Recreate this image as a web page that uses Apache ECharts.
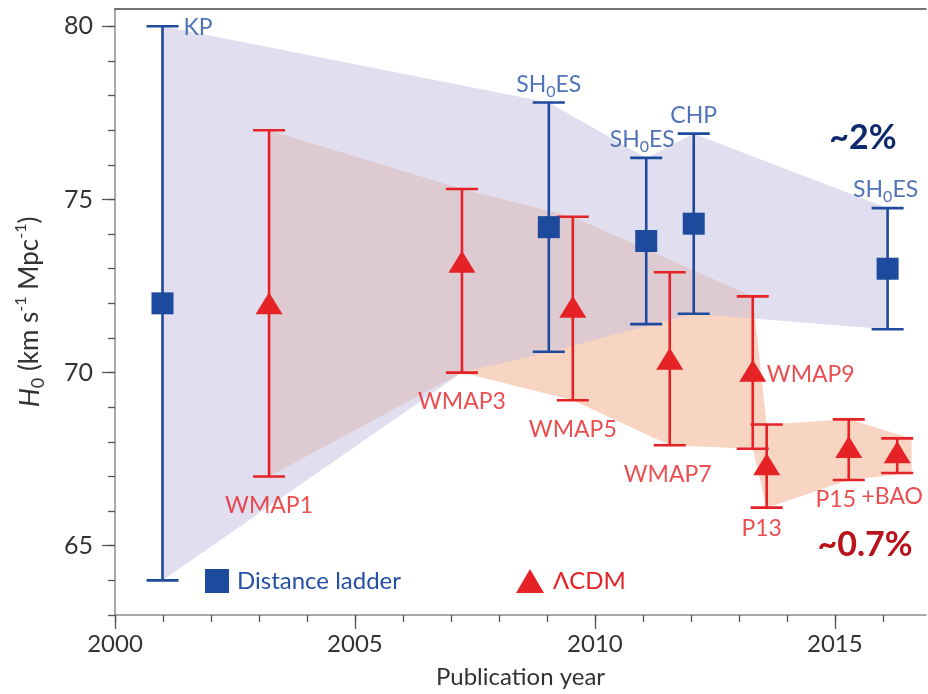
<!DOCTYPE html>
<html>
<head>
<meta charset="utf-8">
<script src="https://cdn.jsdelivr.net/npm/echarts@6/dist/echarts.min.js"></script>
<style>
  html, body { margin: 0; padding: 0; background: #ffffff; }
  #chart { width: 928px; height: 694px; }
</style>
</head>
<body>
<div id="chart"></div>
<script>
// ---- Distance-ladder measurements of H0 (km s^-1 Mpc^-1) ----
const ladderNames = ['KP', 'SH0ES', 'SH0ES', 'CHP', 'SH0ES'];
const ladderYears = [2000.99, 2009.04, 2011.07, 2012.06, 2016.1];
const ladderH0    = [72.0, 74.2, 73.8, 74.3, 73.0];
const ladderLow   = [64.0, 70.6, 71.4, 71.7, 71.25];
const ladderHigh  = [80.0, 77.8, 76.2, 76.9, 74.75];

// ---- CMB inferences assuming LambdaCDM ----
const cmbNames = ['WMAP1', 'WMAP3', 'WMAP5', 'WMAP7', 'WMAP9', 'P13', 'P15', '+BAO'];
const cmbYears = [2003.21, 2007.23, 2009.54, 2011.56, 2013.29, 2013.58, 2015.29, 2016.3];
const cmbH0    = [72.0, 73.2, 71.9, 70.4, 70.05, 67.35, 67.85, 67.7];
const cmbLow   = [67.0, 70.0, 69.2, 67.9, 67.8, 66.1, 66.9, 67.1];
const cmbHigh  = [77.0, 75.3, 74.5, 72.9, 72.2, 68.5, 68.65, 68.1];

// ---- Shaded envelopes, as [year, H0] vertices ----
const ladderBand = [
  [2000.99, 80.0], [2009.04, 77.8], [2011.07, 76.2], [2012.06, 76.9], [2016.1, 74.75],
  [2016.1, 71.25], [2012.06, 71.7], [2009.04, 70.6], [2007.23, 70.0], [2000.99, 64.0]
];
const cmbBand = [
  [2003.21, 77.0], [2007.23, 75.3], [2009.54, 74.5], [2013.29, 72.2], [2013.58, 68.5],
  [2015.29, 68.65], [2016.6, 68.1], [2016.6, 67.1], [2015.29, 66.9], [2013.58, 66.1],
  [2013.29, 67.8], [2011.56, 67.9], [2009.54, 69.2], [2007.23, 70.0], [2003.21, 67.0]
];

// ---- Axis ticks ----
const xMajorTicks = [2000, 2005, 2010, 2015];
const xMinorTicks = [2000, 2001, 2002, 2003, 2004, 2005, 2006, 2007, 2008, 2009, 2010, 2011, 2012, 2013, 2014, 2015, 2016];
const yMajorTicks = [65, 70, 75, 80];
const yMinorTicks = [63, 64, 65, 66, 67, 68, 69, 70, 71, 72, 73, 74, 75, 76, 77, 78, 79, 80];

const legendNames = ['Distance ladder', '\u039BCDM'];

// ---- Styling ----
const FONT = 'Lato';
const BLUE = '#1D4A9D';
const BLUE_TEXT = '#2650A5';
const RED = '#E52226';
const AXIS_COLOR = '#8C8C8C';
const TICK_COLOR = '#555555';
const TEXT_COLOR = '#333333';

const X_MIN = 2000, X_MAX = 2016.9;
const Y_MIN = 63, Y_MAX = 80.5;

// label placement, one entry per point
const ladderLabelLayout = [
  { position: 'right', distance: 21, offset: [0, 1] },
  { position: 'top', distance: 3, offset: [0, 0] },
  { position: 'top', distance: 3, offset: [-4, 0] },
  { position: 'top', distance: 3, offset: [0, 0] },
  { position: 'top', distance: 3, offset: [-2, 0] }
];
const cmbLabelLayout = [
  { anchor: 'low', position: 'bottom', distance: 14, offset: [0, 0] },
  { anchor: 'low', position: 'bottom', distance: 14, offset: [0, 0] },
  { anchor: 'low', position: 'bottom', distance: 14, offset: [0, 0] },
  { anchor: 'low', position: 'bottom', distance: 14, offset: [-2, 0] },
  { anchor: 'mid', position: 'right', distance: 14, offset: [0, 4] },
  { anchor: 'low', position: 'bottom', distance: 6, offset: [-5, 0] },
  { anchor: 'low', position: 'bottom', distance: 5, offset: [-13, 0] },
  { anchor: 'low', position: 'bottom', distance: 9, offset: [-5, 0] }
];

function subscriptZero(name) {
  return name.replace('H0', 'H{sub|0}');
}

function polygonRenderer(points, fill) {
  return function (params, api) {
    return {
      type: 'polygon',
      shape: { points: points.map(p => api.coord(p)) },
      style: { fill: fill, stroke: null }
    };
  };
}

function errorBarRenderer(color) {
  return function (params, api) {
    const x = api.value(0);
    const lo = api.coord([x, api.value(1)]);
    const hi = api.coord([x, api.value(2)]);
    const half = 16;
    const style = { stroke: color, lineWidth: 2.6, fill: null };
    return {
      type: 'group',
      children: [
        { type: 'line', shape: { x1: lo[0], y1: lo[1], x2: hi[0], y2: hi[1] }, style: style },
        { type: 'line', shape: { x1: lo[0] - half, y1: lo[1], x2: lo[0] + half, y2: lo[1] }, style: style },
        { type: 'line', shape: { x1: hi[0] - half, y1: hi[1], x2: hi[0] + half, y2: hi[1] }, style: style }
      ]
    };
  };
}

const labelRich = (color) => ({
  sub: { fontFamily: FONT, fontSize: 16, color: color, verticalAlign: 'bottom', lineHeight: 16 }
});

const ladderLabelData = ladderYears.map((x, i) => ({
  name: ladderNames[i],
  value: [x, ladderHigh[i]],
  label: Object.assign({}, ladderLabelLayout[i])
}));

const cmbLabelData = cmbYears.map((x, i) => {
  const lay = cmbLabelLayout[i];
  const y = lay.anchor === 'mid' ? cmbH0[i] : cmbLow[i];
  return {
    name: cmbNames[i],
    value: [x, y],
    label: { position: lay.position, distance: lay.distance, offset: lay.offset }
  };
});

const labelSeries = (data, color) => ({
  type: 'scatter',
  data: data,
  symbol: 'circle',
  symbolSize: 0.1,
  itemStyle: { color: 'rgba(0,0,0,0)' },
  silent: true,
  z: 6,
  label: {
    show: true,
    formatter: p => subscriptZero(p.name),
    fontFamily: FONT,
    fontSize: 23,
    lineHeight: 30,
    color: color,
    rich: labelRich(color)
  }
});

const chart = echarts.init(document.getElementById('chart'));

chart.setOption({
  backgroundColor: '#ffffff',
  animation: false,
  grid: { left: 115, right: 2, top: 9, bottom: 76, containLabel: false },
  xAxis: [
    {
      type: 'value', min: X_MIN, max: X_MAX, position: 'bottom',
      axisLine: { show: true, lineStyle: { color: AXIS_COLOR, width: 1.5 } },
      axisTick: { show: true, customValues: xMajorTicks, length: 14, lineStyle: { color: TICK_COLOR, width: 1.3 } },
      axisLabel: {
        show: true, customValues: xMajorTicks, margin: 17,
        formatter: v => String(v),
        fontFamily: FONT, fontSize: 24, color: TEXT_COLOR
      },
      splitLine: { show: false },
      name: 'Publication year', nameLocation: 'middle', nameGap: 50,
      nameTextStyle: { fontFamily: FONT, fontSize: 24, color: TEXT_COLOR }
    },
    {
      type: 'value', min: X_MIN, max: X_MAX, position: 'bottom',
      axisLine: { show: false },
      axisTick: { show: true, customValues: xMinorTicks, length: 7, lineStyle: { color: TICK_COLOR, width: 1.3 } },
      axisLabel: { show: false },
      splitLine: { show: false }
    },
    {
      type: 'value', min: X_MIN, max: X_MAX, position: 'top',
      axisLine: { show: true, lineStyle: { color: '#444444', width: 1.5 } },
      axisTick: { show: false }, axisLabel: { show: false }, splitLine: { show: false }
    }
  ],
  yAxis: [
    {
      type: 'value', min: Y_MIN, max: Y_MAX, position: 'left',
      axisLine: { show: true, lineStyle: { color: AXIS_COLOR, width: 1.5 } },
      axisTick: { show: true, customValues: yMajorTicks, length: 13, lineStyle: { color: TICK_COLOR, width: 1.3 } },
      axisLabel: {
        show: true, customValues: yMajorTicks, margin: 22,
        formatter: v => String(v),
        fontFamily: FONT, fontSize: 25, color: TEXT_COLOR
      },
      splitLine: { show: false },
      name: '{it|H}{sub|0}{n| (km s}{sup|-1}{n| Mpc}{sup|-1}{n|)}',
      nameLocation: 'middle', nameGap: 68, nameRotate: 90,
      nameTextStyle: {
        fontFamily: FONT, fontSize: 26, color: TEXT_COLOR, lineHeight: 34,
        rich: {
          it: { fontFamily: FONT, fontSize: 27, fontStyle: 'italic', color: TEXT_COLOR },
          n: { fontFamily: FONT, fontSize: 26, color: TEXT_COLOR },
          sub: { fontFamily: FONT, fontSize: 18, color: TEXT_COLOR, verticalAlign: 'bottom', lineHeight: 17 },
          sup: { fontFamily: FONT, fontSize: 16, color: TEXT_COLOR, verticalAlign: 'top', lineHeight: 16 }
        }
      }
    },
    {
      type: 'value', min: Y_MIN, max: Y_MAX, position: 'left',
      axisLine: { show: false },
      axisTick: { show: true, customValues: yMinorTicks, length: 7, lineStyle: { color: TICK_COLOR, width: 1.3 } },
      axisLabel: { show: false },
      splitLine: { show: false }
    }
  ],
  legend: [
    {
      data: [{ name: legendNames[0], textStyle: { color: BLUE_TEXT } }],
      left: 200, top: 564, itemWidth: 24, itemHeight: 24, selectedMode: false,
      textStyle: { fontFamily: FONT, fontSize: 24, padding: [0, 0, 0, 3] }
    },
    {
      data: [{ name: legendNames[1], textStyle: { color: RED } }],
      left: 511, top: 564, itemWidth: 28, itemHeight: 24, selectedMode: false,
      textStyle: { fontFamily: FONT, fontSize: 24, padding: [0, 0, 0, 4] }
    }
  ],
  graphic: [
    {
      type: 'text', x: 863, y: 138, z: 10,
      style: { text: '~2%', fontFamily: FONT, fontSize: 34, fontWeight: 'bold', fill: '#0F2A6C', align: 'center', verticalAlign: 'middle' }
    },
    {
      type: 'text', x: 865, y: 545, z: 10,
      style: { text: '~0.7%', fontFamily: FONT, fontSize: 34, fontWeight: 'bold', fill: '#B8121B', align: 'center', verticalAlign: 'middle' }
    }
  ],
  series: [
    {
      type: 'custom', name: 'cmbBand', silent: true, z: 1,
      data: [cmbBand[0]],
      renderItem: polygonRenderer(cmbBand, '#F8D4C2')
    },
    {
      type: 'custom', name: 'ladderBand', silent: true, z: 2,
      data: [ladderBand[0]],
      renderItem: polygonRenderer(ladderBand, 'rgba(196,192,224,0.5)')
    },
    {
      type: 'custom', name: 'ladderErrors', silent: true, z: 3,
      data: ladderYears.map((x, i) => [x, ladderLow[i], ladderHigh[i]]),
      encode: { x: 0, y: [1, 2] },
      renderItem: errorBarRenderer(BLUE)
    },
    {
      type: 'custom', name: 'cmbErrors', silent: true, z: 3,
      data: cmbYears.map((x, i) => [x, cmbLow[i], cmbHigh[i]]),
      encode: { x: 0, y: [1, 2] },
      renderItem: errorBarRenderer(RED)
    },
    {
      type: 'scatter', name: legendNames[0], z: 5,
      symbol: 'rect', symbolSize: 22,
      itemStyle: { color: BLUE, opacity: 1 },
      data: ladderYears.map((x, i) => [x, ladderH0[i]])
    },
    {
      type: 'scatter', name: legendNames[1], z: 5,
      symbol: 'triangle', symbolSize: [27, 22],
      itemStyle: { color: RED, opacity: 1 },
      data: cmbYears.map((x, i) => [x, cmbH0[i]])
    },
    labelSeries(ladderLabelData, BLUE_TEXT),
    labelSeries(cmbLabelData, RED)
  ]
});
</script>
</body>
</html>
